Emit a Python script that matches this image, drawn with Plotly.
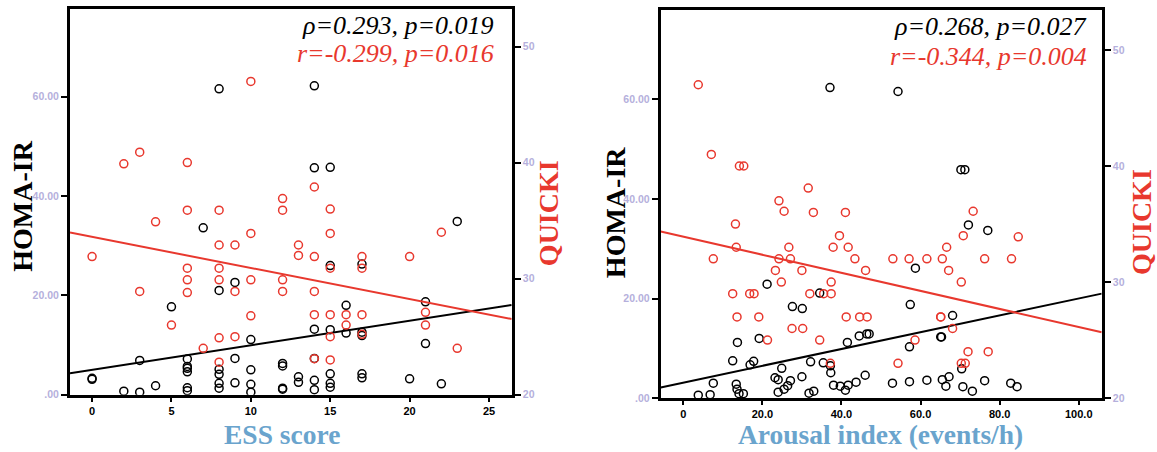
import plotly.graph_objects as go

# ---------------- data ----------------
# Left panel: ESS score vs HOMA-IR (black) and QUICKI (red)
ess_homa = [0, 0, 2, 3, 3, 4, 5, 6, 6, 6, 6, 6, 6, 7, 8, 8, 8, 8, 8, 8, 9, 9, 9,
            10, 10, 10, 10, 12, 12, 12, 12, 13, 13, 14, 14, 14, 14, 14, 14,
            15, 15, 15, 15, 15, 15, 16, 16, 17, 17, 17, 17, 17, 20, 21, 21, 22, 23]
homa_left = [3.1, 3.3, 0.7, 0.5, 6.9, 1.8, 17.7, 7.2, 5.7, 5.3, 4.6, 1.4, 0.8, 33.6,
             61.6, 21.0, 5.1, 4.1, 2.3, 1.3, 22.6, 7.3, 2.4, 11.1, 5.0, 2.1, 0.5,
             6.3, 5.8, 1.3, 1.1, 3.6, 2.5, 62.2, 45.7, 13.2, 7.3, 2.9, 1.0,
             45.8, 26.0, 13.1, 4.2, 2.3, 1.5, 18.0, 12.4, 26.3, 12.6, 11.9, 4.2, 3.4,
             3.2, 18.7, 10.3, 2.2, 34.9]
ess_quicki = [0, 2, 3, 3, 4, 5, 6, 6, 6, 6, 6, 7, 8, 8, 8, 8, 8, 8, 9, 9, 9,
              10, 10, 10, 10, 12, 12, 12, 12, 13, 13, 14, 14, 14, 14, 14,
              15, 15, 15, 15, 15, 15, 16, 16, 17, 17, 17, 17, 20, 21, 21, 22, 23]
quicki_left = [31.9, 39.9, 40.9, 28.9, 34.9, 26.0, 40.0, 35.9, 30.9, 29.9, 28.8, 24.0,
               35.9, 32.9, 30.9, 29.9, 24.9, 22.8, 32.9, 28.9, 25.0, 47.0, 33.9, 29.9, 26.8,
               36.9, 35.9, 29.9, 28.9, 32.9, 32.0, 37.9, 31.9, 28.9, 26.9, 23.1,
               36.0, 33.9, 30.9, 26.9, 25.0, 23.0, 26.9, 26.0, 31.9, 30.9, 26.9, 25.2,
               31.9, 27.1, 26.0, 34.0, 24.0]

# Right panel: Arousal index vs HOMA-IR (black) and QUICKI (red)
arousal_homa = [37.1, 21.2, 34.5, 27.6, 30.1, 13.7, 19.2, 41.5, 44.5, 46.4, 47.0, 12.5,
                17.8, 16.9, 32.2, 35.4, 37.2, 24.9, 7.6, 13.4, 13.6, 14.1, 15.2, 3.8, 6.8,
                23.2, 24.0, 27.1, 26.4, 25.5, 24.0, 30.0, 37.3, 31.8, 33.0, 38.0, 39.7,
                41.0, 41.7, 43.7, 46.0, 54.3, 70.2, 71.2, 72.1, 77.0, 58.7, 57.4, 68.1,
                65.1, 65.3, 57.2, 70.4, 52.9, 57.2, 61.6, 65.5, 67.2, 66.4, 70.7, 73.1,
                76.2, 82.8, 84.4]
homa_right = [62.4, 22.9, 21.1, 18.4, 18.0, 11.2, 12.0, 11.2, 12.5, 12.9, 12.9, 7.5,
              7.4, 6.7, 7.3, 7.1, 6.5, 6.0, 3.0, 2.8, 1.8, 0.9, 0.9, 0.6, 0.7,
              4.1, 3.7, 3.5, 2.5, 1.8, 1.2, 4.3, 5.1, 1.0, 1.4, 2.6, 2.4,
              1.6, 2.6, 3.2, 4.6, 61.6, 45.9, 45.9, 34.8, 33.7, 26.1, 18.8, 16.6,
              12.3, 12.3, 10.3, 5.9, 3.0, 3.3, 3.6, 3.7, 4.3, 2.4, 2.3, 1.4,
              3.5, 3.0, 2.3]
arousal_quicki = [3.8, 7.1, 14.2, 15.3, 31.6, 24.2, 25.5, 32.9, 41.0, 13.2, 39.5, 13.4,
                  26.7, 37.9, 41.7, 7.6, 24.2, 27.1, 43.4, 23.3, 30.0, 46.1, 24.8, 37.4,
                  12.5, 16.8, 17.9, 32.0, 35.5, 37.4, 13.6, 19.1, 41.2, 44.6, 46.5, 27.5,
                  30.2, 21.3, 34.5, 37.2, 73.3, 70.8, 84.7, 66.6, 53.0, 57.1, 61.6, 65.5,
                  76.2, 83.0, 67.1, 70.3, 65.1, 65.1, 68.1, 58.6, 72.0, 77.1, 70.3, 71.3, 54.3]
quicki_right = [47.0, 41.0, 40.0, 40.0, 38.1, 37.0, 36.1, 36.0, 36.0, 35.0, 34.0, 33.0,
                33.0, 33.0, 33.0, 32.0, 32.0, 32.0, 32.0, 31.0, 31.0, 31.0, 30.0, 30.0,
                29.0, 29.0, 29.0, 29.0, 29.0, 29.0, 27.0, 27.0, 27.0, 27.0, 27.0, 26.0,
                26.0, 25.0, 25.0, 23.0, 36.1, 34.0, 33.9, 33.0, 32.0, 32.0, 32.0, 32.0,
                32.0, 32.0, 31.0, 30.0, 27.0, 27.0, 26.0, 25.0, 24.0, 24.0, 23.0, 23.0, 23.0]

# Fit lines: [intercept, slope]
fit_homa_left = [4.99, 0.495]
fit_quicki_left = [33.6, -0.268]
fit_homa_right = [3.12, 0.169]
fit_quicki_right = [33.91, -0.0778]

# Tick labels
x_ticks_left = [0, 5, 10, 15, 20, 25]
x_ticktext_left = ["0", "5", "10", "15", "20", "25"]
x_ticks_right = [0, 20, 40, 60, 80, 100]
x_ticktext_right = ["0", "20.0", "40.0", "60.0", "80.0", "100.0"]
homa_ticks = [0, 20, 40, 60]
homa_ticktext = [".00", "20.00", "40.00", "60.00"]
quicki_ticks = [20, 30, 40, 50]
quicki_ticktext = ["20", "30", "40", "50"]

stats_left = ["ρ=0.293, p=0.019", "r=-0.299, p=0.016"]
stats_right = ["ρ=0.268, p=0.027", "r=-0.344, p=0.004"]

# ---------------- styling ----------------
W, H = 1157, 452
RED = "#e8382e"
BLACK = "#000000"
LAV = "#b5b0dc"
BLUE = "#6aa4cd"
SERIF = "Liberation Serif"
SANS = "Liberation Sans"

xr_left = [-1.39, 26.43]
xr_right = [-5.7, 105.8]
yr_homa_left = [0, 77.7]
yr_quicki_left = [20, 53.25]
yr_homa_right = [0, 78.0]
yr_quicki_right = [20, 53.45]

fig = go.Figure()

marker_black = dict(symbol="circle-open", size=8, color=BLACK, line=dict(width=1.5, color=BLACK))
marker_red = dict(symbol="circle-open", size=8, color=RED, line=dict(width=1.5, color=RED))

# Left panel
fig.add_trace(go.Scatter(x=ess_quicki, y=quicki_left, mode="markers", marker=marker_red,
                         xaxis="x", yaxis="y2", showlegend=False))
fig.add_trace(go.Scatter(x=ess_homa, y=homa_left, mode="markers", marker=marker_black,
                         xaxis="x", yaxis="y", showlegend=False))
fig.add_trace(go.Scatter(x=xr_left, y=[fit_homa_left[0] + fit_homa_left[1] * v for v in xr_left],
                         mode="lines", line=dict(color=BLACK, width=2), xaxis="x", yaxis="y",
                         showlegend=False))
fig.add_trace(go.Scatter(x=xr_left, y=[fit_quicki_left[0] + fit_quicki_left[1] * v for v in xr_left],
                         mode="lines", line=dict(color=RED, width=2), xaxis="x", yaxis="y2",
                         showlegend=False))

# Right panel
fig.add_trace(go.Scatter(x=arousal_quicki, y=quicki_right, mode="markers", marker=marker_red,
                         xaxis="x2", yaxis="y4", showlegend=False))
fig.add_trace(go.Scatter(x=arousal_homa, y=homa_right, mode="markers", marker=marker_black,
                         xaxis="x2", yaxis="y3", showlegend=False))
fig.add_trace(go.Scatter(x=xr_right, y=[fit_homa_right[0] + fit_homa_right[1] * v for v in xr_right],
                         mode="lines", line=dict(color=BLACK, width=2), xaxis="x2", yaxis="y3",
                         showlegend=False))
fig.add_trace(go.Scatter(x=xr_right, y=[fit_quicki_right[0] + fit_quicki_right[1] * v for v in xr_right],
                         mode="lines", line=dict(color=RED, width=2), xaxis="x2", yaxis="y4",
                         showlegend=False))

def xax(domain, rng, tv, tt, anchor):
    return dict(domain=domain, range=rng, anchor=anchor, showline=True, linewidth=3,
                linecolor=BLACK, mirror=True, ticks="outside", ticklen=4, tickwidth=2,
                tickcolor=BLACK, tickvals=tv, ticktext=tt, showgrid=False, zeroline=False,
                tickfont=dict(family=SANS, size=11, color=BLACK, weight="bold"))

def yax(domain, rng, tv, tt, anchor):
    return dict(domain=domain, range=rng, anchor=anchor, showline=True, linewidth=3,
                linecolor=BLACK, mirror=True, ticks="outside", ticklen=6, tickwidth=2,
                tickcolor=BLACK, tickvals=tv, ticktext=tt, showgrid=False, zeroline=False,
                tickfont=dict(family=SANS, size=10.5, color=LAV, weight="bold"))

def yax2(overlay, rng, tv, tt, anchor):
    return dict(overlaying=overlay, side="right", range=rng, anchor=anchor, showline=True,
                linewidth=3, linecolor=BLACK, ticks="outside", ticklen=6, tickwidth=2,
                tickcolor=BLACK, tickvals=tv, ticktext=tt, showgrid=False, zeroline=False,
                tickfont=dict(family=SANS, size=10.5, color=LAV, weight="bold"))

dx_left = [70 / W, 511.7 / W]
dy_left = [(H - 400) / H, (H - 9) / H]
dx_right = [660.7 / W, 1101.7 / W]
dy_right = [(H - 403.5) / H, (H - 10) / H]

fig.update_layout(
    width=W, height=H,
    margin=dict(l=0, r=0, t=0, b=0),
    paper_bgcolor="white", plot_bgcolor="white",
    xaxis=xax(dx_left, xr_left, x_ticks_left, x_ticktext_left, "y"),
    yaxis=yax(dy_left, yr_homa_left, homa_ticks, homa_ticktext, "x"),
    yaxis2=yax2("y", yr_quicki_left, quicki_ticks, quicki_ticktext, "x"),
    xaxis2=xax(dx_right, xr_right, x_ticks_right, x_ticktext_right, "y3"),
    yaxis3=yax(dy_right, yr_homa_right, homa_ticks, homa_ticktext, "x2"),
    yaxis4=yax2("y3", yr_quicki_right, quicki_ticks, quicki_ticktext, "x2"),
)

def px(xp):
    return xp / W

def py(yp):
    return 1 - yp / H

title_font = dict(family=SERIF, size=28, weight="bold")
xtitle_font = dict(family=SERIF, size=27.5, weight="bold")
annotations = [
    dict(text="HOMA-IR", x=px(22.5), y=py(209), textangle=-90, font=dict(**title_font, color=BLACK)),
    dict(text="QUICKI", x=px(548), y=py(216), textangle=-90, font=dict(**title_font, color=RED)),
    dict(text="ESS score", x=px(282), y=py(440), font=dict(**xtitle_font, color=BLUE)),
    dict(text="HOMA-IR", x=px(615), y=py(216), textangle=-90, font=dict(**title_font, color=BLACK)),
    dict(text="QUICKI", x=px(1141), y=py(225), textangle=-90, font=dict(**title_font, color=RED)),
    dict(text="Arousal index (events/h)", x=px(880), y=py(440), font=dict(**xtitle_font, color=BLUE)),
]
stat_font = dict(family=SERIF, size=26, style="italic")
for txt, xr, yc, col in [
    (stats_left[0], 496, 26, BLACK), (stats_left[1], 496, 54, RED),
    (stats_right[0], 1089, 27, BLACK), (stats_right[1], 1089, 57, RED),
]:
    annotations.append(dict(text=txt, x=px(xr), y=py(yc), xanchor="right",
                            font=dict(**stat_font, color=col)))
for a in annotations:
    a.setdefault("xanchor", "center")
    a.update(xref="paper", yref="paper", yanchor="middle", showarrow=False)
fig.update_layout(annotations=annotations)

fig.write_html("out.html", config={"displayModeBar": False},
               post_script="document.body.style.margin='0px';document.body.style.padding='0px';")
